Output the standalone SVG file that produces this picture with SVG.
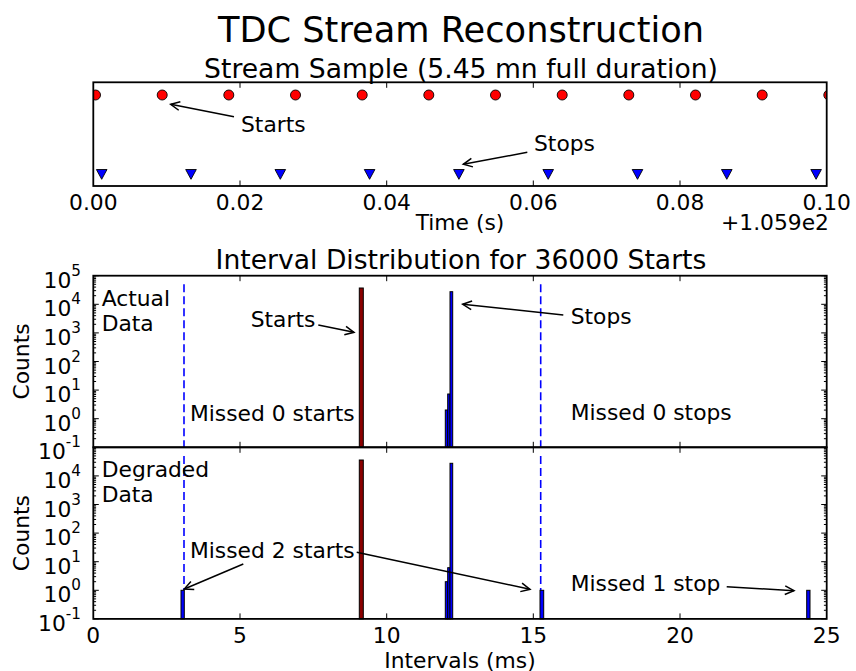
<svg xmlns="http://www.w3.org/2000/svg" xmlns:xlink="http://www.w3.org/1999/xlink" width="856" height="671" viewBox="0 0 856 671">
<style>
text { font-family: "DejaVu Sans", "Liberation Sans", sans-serif; fill: #000; font-size: 21.8px; }
.sup { font-size: 15.2px; }
.title { font-size: 26.6px; text-anchor: middle; }
.suptitle { font-size: 35.2px; text-anchor: middle; }
.mid { text-anchor: middle; }
.end { text-anchor: end; }
.frame { fill: none; stroke: #000; stroke-width: 1.8; }
.tick { fill: none; stroke: #000; stroke-width: 1; }
.arrow { fill: none; stroke: #000; stroke-width: 1.5; marker-end: url(#head); }
.start { fill: #ff0000; stroke: #000; stroke-width: 0.9; }
.stop { fill: #0000ff; stroke: #000; stroke-width: 0.9; }
.bar-r { fill: #8b0000; stroke: #000; stroke-width: 1; }
.bar-b { fill: #0000ff; stroke: #000; stroke-width: 1; }
.guide { fill: none; stroke: #0000ff; stroke-width: 1.6; stroke-dasharray: 8 4; }
</style>
<defs>
  <marker id="head" markerUnits="userSpaceOnUse" orient="auto" refX="0" refY="0" markerWidth="20" markerHeight="20" overflow="visible">
    <path d="M-9,-4.3 L0,0 L-9,4.3" fill="none" stroke="#000" stroke-width="1.5" stroke-linejoin="miter"/>
  </marker>
  <clipPath id="clipTop"><rect x="93.3" y="82.3" width="733.4" height="103.7"/></clipPath>
  <path id="tri" d="M-5.3,-4.8 L5.3,-4.8 L0,5 Z"/>
  <!-- log minor ticks (2..9) for one decade, both sides; origin at the decade's lower line -->
  <path id="minor" class="tick" d="M93.3,-8.61h2.8M93.3,-13.65h2.8M93.3,-17.22h2.8M93.3,-19.99h2.8M93.3,-22.26h2.8M93.3,-24.17h2.8M93.3,-25.83h2.8M93.3,-27.29h2.8M826.7,-8.61h-2.8M826.7,-13.65h-2.8M826.7,-17.22h-2.8M826.7,-19.99h-2.8M826.7,-22.26h-2.8M826.7,-24.17h-2.8M826.7,-25.83h-2.8M826.7,-27.29h-2.8"/>
</defs>
<rect width="856" height="671" fill="#fff"/>

<text class="suptitle" x="461" y="42">TDC Stream Reconstruction</text>

<!-- Stream sample: start and stop timestamps -->
<g id="stream-panel">
  <text class="title" x="461" y="77.5">Stream Sample (5.45 mn full duration)</text>
  <g clip-path="url(#clipTop)">
    <circle class="start" cx="95.5" cy="95" r="5"/>
    <circle class="start" cx="162.2" cy="95" r="5"/>
    <circle class="start" cx="228.8" cy="95" r="5"/>
    <circle class="start" cx="295.5" cy="95" r="5"/>
    <circle class="start" cx="362.2" cy="95" r="5"/>
    <circle class="start" cx="428.8" cy="95" r="5"/>
    <circle class="start" cx="495.5" cy="95" r="5"/>
    <circle class="start" cx="562.2" cy="95" r="5"/>
    <circle class="start" cx="628.8" cy="95" r="5"/>
    <circle class="start" cx="695.5" cy="95" r="5"/>
    <circle class="start" cx="762.2" cy="95" r="5"/>
    <circle class="start" cx="828.8" cy="95" r="5"/>
    <use xlink:href="#tri" class="stop" x="101.7" y="174.3"/>
    <use xlink:href="#tri" class="stop" x="191" y="174.3"/>
    <use xlink:href="#tri" class="stop" x="280.3" y="174.3"/>
    <use xlink:href="#tri" class="stop" x="369.6" y="174.3"/>
    <use xlink:href="#tri" class="stop" x="458.9" y="174.3"/>
    <use xlink:href="#tri" class="stop" x="548.2" y="174.3"/>
    <use xlink:href="#tri" class="stop" x="637.5" y="174.3"/>
    <use xlink:href="#tri" class="stop" x="726.8" y="174.3"/>
    <use xlink:href="#tri" class="stop" x="816.1" y="174.3"/>
  </g>
  <rect class="frame" x="93.3" y="82.3" width="733.4" height="103.7"/>
  <path class="tick" d="M240,82.3v5.5M386.7,82.3v5.5M533.3,82.3v5.5M680,82.3v5.5M240,186v-5.5M386.7,186v-5.5M533.3,186v-5.5M680,186v-5.5"/>
  <g class="mid">
    <text x="93.3" y="209.5">0.00</text>
    <text x="240" y="209.5">0.02</text>
    <text x="386.7" y="209.5">0.04</text>
    <text x="533.3" y="209.5">0.06</text>
    <text x="680" y="209.5">0.08</text>
    <text x="826.7" y="209.5">0.10</text>
    <text x="460" y="230">Time (s)</text>
  </g>
  <text class="end" x="829" y="230">+1.059e2</text>
  <text x="241" y="132">Starts</text>
  <text x="534" y="151">Stops</text>
</g>

<!-- Interval histogram, actual data -->
<g id="actual-panel">
  <text class="title" x="461" y="268.5">Interval Distribution for 36000 Starts</text>
  <path class="guide" d="M184,284.3V447.3M540.7,284.3V447.3"/>
  <rect class="bar-r" x="359.3" y="288" width="4" height="159.3"/>
  <rect class="bar-b" x="445.3" y="410" width="2.4" height="37.3"/>
  <rect class="bar-b" x="447.7" y="394" width="2.3" height="53.3"/>
  <rect class="bar-b" x="450" y="291.7" width="2.7" height="155.6"/>
  <rect class="frame" x="93.3" y="275.7" width="733.4" height="171.6"/>
  <path class="tick" d="M93.3,275.7h5.5M93.3,304.3h5.5M93.3,332.9h5.5M93.3,361.5h5.5M93.3,390.1h5.5M93.3,418.7h5.5M93.3,447.3h5.5M826.7,275.7h-5.5M826.7,304.3h-5.5M826.7,332.9h-5.5M826.7,361.5h-5.5M826.7,390.1h-5.5M826.7,418.7h-5.5M826.7,447.3h-5.5M240,275.7v5.5M386.7,275.7v5.5M533.3,275.7v5.5M680,275.7v5.5M240,447.3v-5.5M386.7,447.3v-5.5M533.3,447.3v-5.5M680,447.3v-5.5"/>
  <use xlink:href="#minor" y="304.3"/>
  <use xlink:href="#minor" y="332.9"/>
  <use xlink:href="#minor" y="361.5"/>
  <use xlink:href="#minor" y="390.1"/>
  <use xlink:href="#minor" y="418.7"/>
  <use xlink:href="#minor" y="447.3"/>
  <g class="end">
    <text x="81" y="287.7">10<tspan class="sup" dy="-12">5</tspan></text>
    <text x="81" y="316.3">10<tspan class="sup" dy="-12">4</tspan></text>
    <text x="81" y="344.9">10<tspan class="sup" dy="-12">3</tspan></text>
    <text x="81" y="373.5">10<tspan class="sup" dy="-12">2</tspan></text>
    <text x="81" y="402.1">10<tspan class="sup" dy="-12">1</tspan></text>
    <text x="81" y="430.7">10<tspan class="sup" dy="-12">0</tspan></text>
    <text x="81" y="459.3">10<tspan class="sup" dy="-12">-1</tspan></text>
  </g>
  <text class="mid" transform="translate(29,361.5) rotate(-90)">Counts</text>
  <text x="101.7" y="305.5">Actual</text>
  <text x="101.7" y="331">Data</text>
  <text x="250.7" y="326.7">Starts</text>
  <text x="190" y="420.7">Missed 0 starts</text>
  <text x="570.7" y="324">Stops</text>
  <text x="570.7" y="419.5">Missed 0 stops</text>
</g>

<!-- Interval histogram, degraded data -->
<g id="degraded-panel">
  <path class="guide" d="M184,456V590.3M540.7,456V590.3"/>
  <rect class="bar-b" x="181" y="590.3" width="3.3" height="28.6"/>
  <rect class="bar-r" x="359.3" y="460" width="4" height="158.9"/>
  <rect class="bar-b" x="445.3" y="581.7" width="2.4" height="37.2"/>
  <rect class="bar-b" x="447.7" y="567.7" width="2.3" height="51.2"/>
  <rect class="bar-b" x="450" y="463.3" width="2.7" height="155.6"/>
  <rect class="bar-b" x="540" y="590.3" width="3.7" height="28.6"/>
  <rect class="bar-b" x="806.7" y="590.3" width="3.3" height="28.6"/>
  <rect class="frame" x="93.3" y="447.3" width="733.4" height="171.6"/>
  <path class="tick" d="M93.3,475.9h5.5M93.3,504.5h5.5M93.3,533.1h5.5M93.3,561.7h5.5M93.3,590.3h5.5M93.3,618.9h5.5M826.7,475.9h-5.5M826.7,504.5h-5.5M826.7,533.1h-5.5M826.7,561.7h-5.5M826.7,590.3h-5.5M826.7,618.9h-5.5M240,447.3v5.5M386.7,447.3v5.5M533.3,447.3v5.5M680,447.3v5.5M240,618.9v-5.5M386.7,618.9v-5.5M533.3,618.9v-5.5M680,618.9v-5.5"/>
  <use xlink:href="#minor" y="475.9"/>
  <use xlink:href="#minor" y="504.5"/>
  <use xlink:href="#minor" y="533.1"/>
  <use xlink:href="#minor" y="561.7"/>
  <use xlink:href="#minor" y="590.3"/>
  <use xlink:href="#minor" y="618.9"/>
  <g class="end">
    <text x="81" y="487.9">10<tspan class="sup" dy="-12">4</tspan></text>
    <text x="81" y="516.5">10<tspan class="sup" dy="-12">3</tspan></text>
    <text x="81" y="545.1">10<tspan class="sup" dy="-12">2</tspan></text>
    <text x="81" y="573.7">10<tspan class="sup" dy="-12">1</tspan></text>
    <text x="81" y="602.3">10<tspan class="sup" dy="-12">0</tspan></text>
    <text x="81" y="630.9">10<tspan class="sup" dy="-12">-1</tspan></text>
  </g>
  <g class="mid">
    <text x="93.3" y="642.7">0</text>
    <text x="240" y="642.7">5</text>
    <text x="386.7" y="642.7">10</text>
    <text x="533.3" y="642.7">15</text>
    <text x="680" y="642.7">20</text>
    <text x="826.7" y="642.7">25</text>
    <text x="460" y="667.5">Intervals (ms)</text>
  </g>
  <text class="mid" transform="translate(29,533.1) rotate(-90)">Counts</text>
  <text x="101.7" y="476.7">Degraded</text>
  <text x="101.7" y="502.3">Data</text>
  <text x="190" y="558.3">Missed 2 starts</text>
  <text x="570.7" y="590.7">Missed 1 stop</text>
</g>

<!-- annotation arrows -->
<g id="connectors">
  <path class="arrow" d="M234,116.7L170.7,104.3"/>
  <path class="arrow" d="M527.3,152.3L463.3,164.3"/>
  <path class="arrow" d="M318.3,325L354,332.3"/>
  <path class="arrow" d="M563.3,315L462.7,304.3"/>
  <path class="arrow" d="M243.3,564L184.3,589"/>
  <path class="arrow" d="M356.7,552.3L530,589.3"/>
  <path class="arrow" d="M726.7,586.7L794,590.7"/>
</g>
</svg>
